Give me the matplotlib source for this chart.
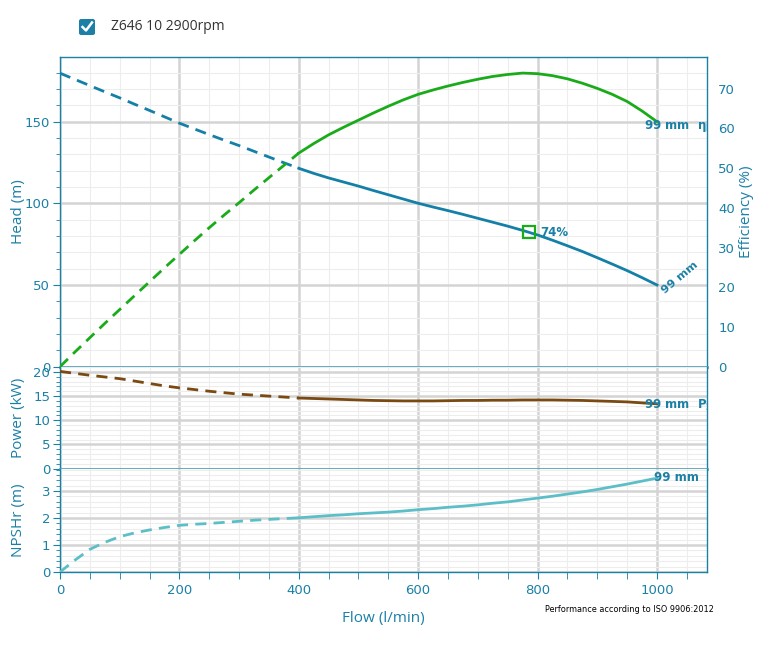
import matplotlib
matplotlib.use('Agg')
import matplotlib.pyplot as plt
from matplotlib.patches import FancyBboxPatch
from matplotlib.lines import Line2D
from matplotlib.ticker import MultipleLocator

# data (every 25 l/min)
flow = [0, 25, 50, 75, 100, 125, 150, 175, 200, 225, 250, 275, 300, 325, 350, 375, 400,
        425, 450, 475, 500, 525, 550, 575, 600, 625, 650, 675, 700, 725, 750, 775, 800,
        825, 850, 875, 900, 925, 950, 975, 1000]
head = [179.6, 175.8, 172.0, 168.2, 164.5, 160.6, 156.8, 152.9, 149.0, 145.5, 142.0,
        138.6, 135.3, 131.8, 128.3, 124.8, 121.4, 118.3, 115.5, 113.0, 110.5, 107.8,
        105.2, 102.6, 100.0, 97.7, 95.5, 93.2, 90.8, 88.4, 86.0, 83.4, 80.6, 77.4,
        74.0, 70.5, 66.7, 62.8, 58.8, 54.5, 50.0]
efficiency = [0.0, 3.7, 7.3, 10.9, 14.4, 17.9, 21.4, 24.9, 28.3, 31.7, 35.0, 38.2, 41.3,
              44.5, 47.6, 50.7, 53.8, 56.2, 58.4, 60.3, 62.1, 63.9, 65.6, 67.2, 68.6,
              69.7, 70.7, 71.6, 72.4, 73.1, 73.6, 73.95, 73.8, 73.3, 72.5, 71.4, 70.1,
              68.6, 66.8, 64.4, 61.7]
power = [20.1, 19.7, 19.3, 18.95, 18.6, 18.1, 17.6, 17.1, 16.7, 16.35, 16.0, 15.7, 15.4,
         15.2, 15.0, 14.8, 14.6, 14.5, 14.4, 14.3, 14.2, 14.1, 14.05, 14.0, 14.0, 14.0,
         14.05, 14.1, 14.1, 14.15, 14.15, 14.2, 14.2, 14.2, 14.15, 14.1, 14.0, 13.9,
         13.8, 13.6, 13.4]
npsh = [0.0, 0.44, 0.84, 1.10, 1.31, 1.45, 1.56, 1.65, 1.73, 1.77, 1.80, 1.84, 1.88,
        1.92, 1.95, 1.98, 2.01, 2.05, 2.09, 2.12, 2.16, 2.19, 2.22, 2.26, 2.31, 2.35,
        2.40, 2.44, 2.49, 2.55, 2.60, 2.67, 2.74, 2.81, 2.89, 2.97, 3.06, 3.16, 3.26,
        3.37, 3.48]
bep_flow = 785
bep_head = 82.4
bep_eff = 74
split = 16  # index of 400 l/min, dashed below

TEAL = '#1a80a6'
SEP = '#5aa9bf'
HEAD_C = '#1480a8'
EFF_C = '#1aab1a'
POW_C = '#7a4a12'
NPSH_C = '#5cbfc7'
MAJ = '#d4d4d4'
MIN = '#ededed'

W, H = 777, 653


def fx(px):
    return px / W


def fy(py):
    return 1 - py / H


fig = plt.figure(figsize=(7.77, 6.53), dpi=100)
left, right = 60, 707
ax_h = fig.add_axes([fx(left), fy(366.7), fx(right - left), (366.7 - 57) / H])
ax_p = fig.add_axes([fx(left), fy(468.7), fx(right - left), (468.7 - 366.7) / H], sharex=ax_h)
ax_n = fig.add_axes([fx(left), fy(572), fx(right - left), (572 - 468.7) / H], sharex=ax_h)
ax_e = ax_h.twinx()

dash = (0, (4, 2.6))

for ax in (ax_h, ax_p, ax_n):
    ax.set_xlim(0, 1083.8)
    ax.xaxis.set_major_locator(MultipleLocator(200))
    ax.xaxis.set_minor_locator(MultipleLocator(50))
    ax.grid(which='major', color=MAJ, lw=1.8, zorder=0)
    ax.grid(which='minor', color=MIN, lw=0.8, zorder=0)
    ax.set_axisbelow(True)
    for s in ax.spines.values():
        s.set_color(TEAL)
        s.set_linewidth(1.0)
    ax.tick_params(axis='y', which='major', direction='out', length=5, color=TEAL,
                   labelcolor=TEAL, labelsize=9.5, pad=2)
    ax.tick_params(axis='y', which='minor', direction='out', length=3, color=TEAL)
    ax.tick_params(axis='x', which='both', direction='out', length=5, color=TEAL,
                   labelcolor=TEAL, labelsize=9.5)
    ax.yaxis.label.set_color(TEAL)

ax_h.tick_params(axis='x', which='both', length=0, labelbottom=False)
ax_p.tick_params(axis='x', which='both', length=0, labelbottom=False)

# panel separators
ax_h.spines['bottom'].set_color(SEP)
ax_h.spines['bottom'].set_linewidth(2)
ax_p.spines['top'].set_visible(False)
ax_p.spines['bottom'].set_color(SEP)
ax_p.spines['bottom'].set_linewidth(2)
ax_n.spines['top'].set_visible(False)

# head panel
ax_h.set_ylim(0, 189.5)
ax_h.yaxis.set_major_locator(MultipleLocator(50))
ax_h.yaxis.set_minor_locator(MultipleLocator(10))
ax_h.plot(flow[:split + 1], head[:split + 1], color=HEAD_C, lw=2, ls=dash, zorder=3)
ax_h.plot(flow[split:], head[split:], color=HEAD_C, lw=2, zorder=3)
ax_h.plot([bep_flow], [bep_head], marker='s', ms=9, mfc='none', mec=EFF_C, mew=1.6, zorder=4)
ax_h.text(bep_flow + 20, bep_head, f'{bep_eff}%', color=TEAL, fontsize=8.5,
          fontweight='bold', va='center', ha='left')
ax_h.text(flow[-1] + 4, head[-1] - 2, '99 mm', color=TEAL, fontsize=8.2, fontweight='bold',
          rotation=40, rotation_mode='anchor', ha='left', va='top', clip_on=True)
ax_h.set_ylabel('Head (m)', fontsize=11, family='Open Sans')
ax_h.yaxis.set_label_coords(-0.053, 0.5)

# efficiency on the right
ax_e.set_ylim(0, 78)
ax_e.set_yticks(range(0, 80, 10))
ax_e.tick_params(axis='y', length=0, labelcolor=TEAL, labelsize=9.5, pad=8)
for s in ax_e.spines.values():
    s.set_visible(False)
ax_e.plot(flow[:split + 1], efficiency[:split + 1], color=EFF_C, lw=2, ls=dash, zorder=3)
ax_e.plot(flow[split:], efficiency[split:], color=EFF_C, lw=2, zorder=3)
ax_e.text(flow[-1] - 22, efficiency[-1] - 1.2, r'99 mm  η$_\mathregular{P}$', color=TEAL,
          fontsize=8.5, fontweight='bold', ha='left', va='center', clip_on=True)
ax_e.set_ylabel('Efficiency (%)', fontsize=11, family='Open Sans', color=TEAL)
ax_e.yaxis.set_label_coords(1.05, 0.5)

# power panel
ax_p.set_ylim(0, 21.07)
ax_p.yaxis.set_major_locator(MultipleLocator(5))
ax_p.yaxis.set_minor_locator(MultipleLocator(1))
ax_p.plot(flow[:split + 1], power[:split + 1], color=POW_C, lw=2, ls=dash, zorder=3)
ax_p.plot(flow[split:], power[split:], color=POW_C, lw=2, zorder=3)
ax_p.text(flow[-1] - 22, power[-1] - 0.3, r'99 mm  P$_\mathregular{2}$', color=TEAL,
          fontsize=8.5, fontweight='bold', ha='left', va='center', clip_on=True)
ax_p.set_ylabel('Power (kW)', fontsize=11, family='Open Sans')
ax_p.yaxis.set_label_coords(-0.053, 0.5)

# NPSH panel
ax_n.set_ylim(0, 3.83)
ax_n.yaxis.set_major_locator(MultipleLocator(1))
ax_n.yaxis.set_minor_locator(MultipleLocator(0.2))
ax_n.plot(flow[:split + 1], npsh[:split + 1], color=NPSH_C, lw=2, ls=dash, zorder=3)
ax_n.plot(flow[split:], npsh[split:], color=NPSH_C, lw=2, zorder=3)
ax_n.text(flow[-1] - 5, npsh[-1] + 0.02, '99 mm', color=TEAL, fontsize=8.5,
          fontweight='bold', ha='left', va='center', clip_on=True)
ax_n.set_ylabel('NPSHr (m)', fontsize=11, family='Open Sans')
ax_n.yaxis.set_label_coords(-0.053, 0.5)
ax_n.set_xlabel('Flow (l/min)', fontsize=11, family='Open Sans', color=TEAL)
ax_n.xaxis.set_label_coords(0.5, -0.38)

# legend check box
box = FancyBboxPatch((fx(79), fy(35)), 16 / W, 16 / H, boxstyle='round,pad=0,rounding_size=0.003',
                     transform=fig.transFigure, facecolor='#1b7fa6', edgecolor='none')
fig.patches.append(box)
fig.lines.append(Line2D([fx(82.5), fx(86), fx(92)], [fy(27), fy(30.5), fy(22.5)],
                        transform=fig.transFigure, color='white', lw=1.8))
fig.text(fx(111), fy(26.5), 'Z646 10 2900rpm', fontsize=10, color='#333333',
         family='Open Sans', va='center')

fig.text(fx(545), fy(609), 'Performance according to ISO 9906:2012', fontsize=5.9,
         color='black', va='center')

fig.savefig('out.png', dpi=100)
